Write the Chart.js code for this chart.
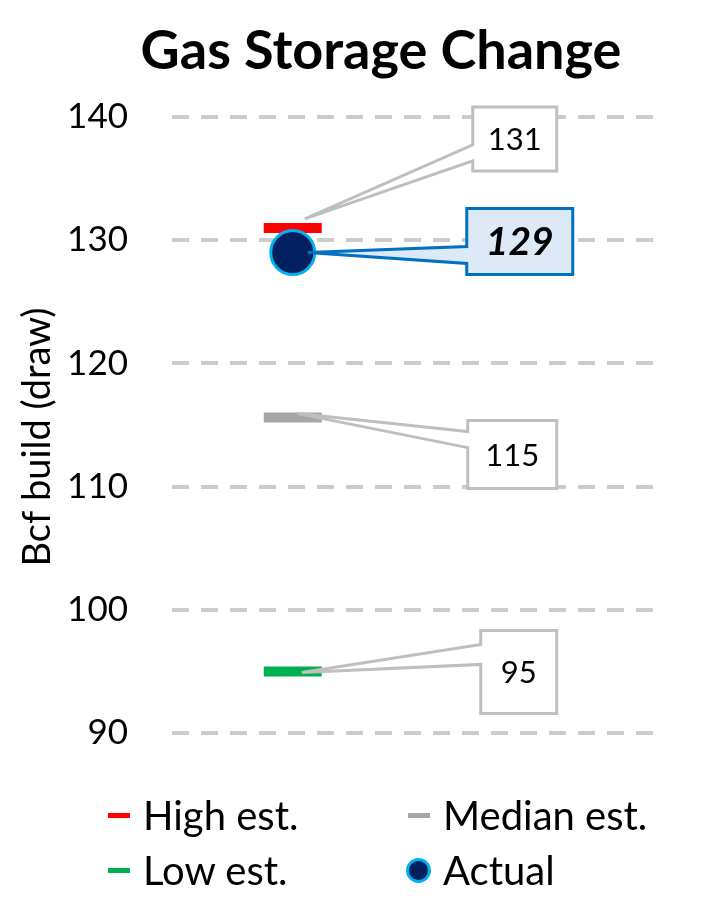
<!DOCTYPE html>
<html>
<head>
<meta charset="utf-8">
<script src="https://cdn.jsdelivr.net/npm/chart.js@4/dist/chart.umd.min.js"></script>
<style>
  html, body { margin: 0; padding: 0; background: #ffffff; }
  #wrap { position: relative; width: 705px; height: 900px; }
  #legend { position: absolute; left: 0; top: 0; width: 705px; height: 900px; pointer-events: none;
            font-family: Lato, "Noto Sans", sans-serif; font-size: 40px; color: #000; }
  .li { position: absolute; display: flex; align-items: center; height: 50px; white-space: nowrap; }
  .mk { display: inline-block; margin-right: 13px; }
</style>
</head>
<body>
<div id="wrap">
  <canvas id="c" width="705" height="900"></canvas>
  <div id="legend"></div>
</div>
<script>
// ---------- data ----------
const chartTitle = 'Gas Storage Change';
const yAxisTitle = 'Bcf build (draw)';
const categories = ['Gas storage'];
const seriesNames = ['High est.', 'Median est.', 'Low est.', 'Actual'];
const highEst = [131];
const medianEst = [115.6];
const lowEst = [95];
const actualVals = [129];
const valueLabels = { high: ['131'], median: ['115'], low: ['95'], actual: ['129'] };
const yTickValues = [90, 100, 110, 120, 130, 140];

// ---------- styles / layout ----------
const FONT = 'Lato, "Noto Sans", sans-serif';
const colors = { high: '#ff0000', median: '#a6a6a6', low: '#00b050', actualFill: '#002060', actualBorder: '#00b0f0' };

// callout geometry relative to each point's pixel position
const calloutLayout = {
  high:   { box: [180, -121, 264, -57], base: [-83, -67], tip: [12, -9],  stroke: '#bfbfbf', fill: '#ffffff', font: '400 31px ' + FONT },
  median: { box: [175, 3, 264, 71],     base: [14, 30],   tip: [5, -4],   stroke: '#bfbfbf', fill: '#ffffff', font: '400 31px ' + FONT },
  low:    { box: [188, -41, 264, 42],   base: [-27, -7],  tip: [9, 1],    stroke: '#bfbfbf', fill: '#ffffff', font: '400 31px ' + FONT },
  actual: { box: [174, -44, 280, 22],   base: [-6, 11],   tip: [15, 0],   stroke: '#0070c0', fill: '#dde9f6', font: 'italic 700 39px ' + FONT }
};

function pts(arr) { return arr.map((v, i) => ({ x: i, y: v })); }

const datasets = [
  { key: 'actual', label: seriesNames[3], data: pts(actualVals), order: 0,
    pointStyle: 'circle', pointRadius: 22, pointHoverRadius: 22,
    backgroundColor: colors.actualFill, borderColor: colors.actualBorder, pointBorderWidth: 3, pointHoverBorderWidth: 3 },
  { key: 'high', label: seriesNames[0], data: pts(highEst), order: 1,
    pointStyle: 'line', pointRadius: 29, pointHoverRadius: 29,
    borderColor: colors.high, backgroundColor: colors.high, pointBorderWidth: 10, pointHoverBorderWidth: 10 },
  { key: 'median', label: seriesNames[1], data: pts(medianEst), order: 1,
    pointStyle: 'line', pointRadius: 29, pointHoverRadius: 29,
    borderColor: colors.median, backgroundColor: colors.median, pointBorderWidth: 10, pointHoverBorderWidth: 10 },
  { key: 'low', label: seriesNames[2], data: pts(lowEst), order: 1,
    pointStyle: 'line', pointRadius: 29, pointHoverRadius: 29,
    borderColor: colors.low, backgroundColor: colors.low, pointBorderWidth: 10, pointHoverBorderWidth: 10 }
];

const calloutPlugin = {
  id: 'callouts',
  afterDatasetsDraw(chart) {
    const ctx = chart.ctx;
    chart.data.datasets.forEach((ds, di) => {
      const meta = chart.getDatasetMeta(di);
      const lay = calloutLayout[ds.key];
      meta.data.forEach((el, i) => {
        const px = el.x, py = el.y;
        const [x1, y1, x2, y2] = lay.box;
        const L = px + x1, T = py + y1, R = px + x2, B = py + y2;
        ctx.save();
        ctx.beginPath();
        ctx.moveTo(L, T);
        ctx.lineTo(R, T);
        ctx.lineTo(R, B);
        ctx.lineTo(L, B);
        ctx.lineTo(L, py + lay.base[1]);
        ctx.lineTo(px + lay.tip[0], py + lay.tip[1]);
        ctx.lineTo(L, py + lay.base[0]);
        ctx.closePath();
        ctx.fillStyle = lay.fill;
        ctx.fill();
        ctx.lineWidth = 3;
        ctx.lineJoin = 'miter';
        ctx.strokeStyle = lay.stroke;
        ctx.stroke();
        ctx.fillStyle = '#000000';
        ctx.font = lay.font;
        ctx.textAlign = 'center';
        ctx.textBaseline = 'middle';
        ctx.fillText(valueLabels[ds.key][i], (L + R) / 2, (T + B) / 2 + 1);
        ctx.restore();
      });
    });
  }
};

const titlesPlugin = {
  id: 'titles',
  afterDraw(chart) {
    const ctx = chart.ctx;
    ctx.save();
    ctx.fillStyle = '#000000';
    ctx.textAlign = 'center';
    ctx.textBaseline = 'middle';
    ctx.font = '700 54px ' + FONT;
    ctx.fillText(chartTitle, 381, 52);
    ctx.translate(38, 437);
    ctx.rotate(-Math.PI / 2);
    ctx.font = '400 38px ' + FONT;
    ctx.fillText(yAxisTitle, 0, 0);
    ctx.restore();
  }
};

const chart = new Chart(document.getElementById('c'), {
  type: 'scatter',
  data: { labels: categories, datasets },
  options: {
    responsive: false,
    animation: false,
    events: [],
    layout: { padding: { left: 0, right: 50, top: 117, bottom: 167 } },
    plugins: { legend: { display: false }, title: { display: false }, tooltip: { enabled: false } },
    scales: {
      x: { type: 'linear', min: -1, max: 3, display: false },
      y: {
        type: 'linear', min: 90, max: 140,
        afterFit(scale) { scale.width = 172; },
        afterBuildTicks(scale) { scale.ticks = yTickValues.map(v => ({ value: v })); },
        border: { display: false, dash: [17, 12] },
        grid: { color: '#cccccc', lineWidth: 4, drawTicks: false },
        ticks: { padding: 44, color: '#000000', font: { family: FONT, size: 35 } }
      }
    }
  },
  plugins: [calloutPlugin, titlesPlugin]
});

// ---------- legend (HTML, from datasets) ----------
const legendPos = { high: [108, 790], median: [408, 790], low: [108, 845], actual: [406, 845] };
const legendEl = document.getElementById('legend');
['high', 'median', 'low', 'actual'].forEach(key => {
  const ds = datasets.find(d => d.key === key);
  const item = document.createElement('div');
  item.className = 'li';
  item.style.left = legendPos[key][0] + 'px';
  item.style.top = legendPos[key][1] + 'px';
  const mk = document.createElement('span');
  mk.className = 'mk';
  if (key === 'actual') {
    mk.style.width = '19px'; mk.style.height = '19px'; mk.style.borderRadius = '50%';
    mk.style.background = colors.actualFill; mk.style.border = '3px solid ' + colors.actualBorder;
    mk.style.marginRight = '12px';
  } else {
    mk.style.width = '22px'; mk.style.height = '5px'; mk.style.background = ds.borderColor;
  }
  const tx = document.createElement('span');
  tx.textContent = ds.label;
  item.appendChild(mk);
  item.appendChild(tx);
  legendEl.appendChild(item);
});
</script>
</body>
</html>
